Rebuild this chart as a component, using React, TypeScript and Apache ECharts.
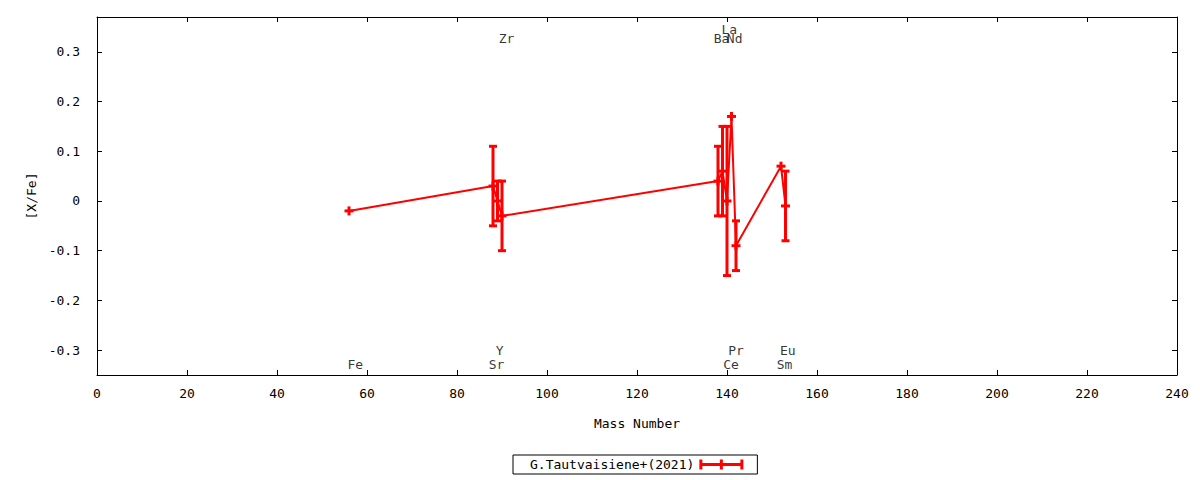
import React, { useEffect, useRef } from "react";
import * as echarts from "echarts";

const SERIES_NAME = "G.Tautvaisiene+(2021)";
const FONT = "DejaVu Sans Mono";

// element mass numbers, [X/Fe] values and their errors
const masses = [56, 88, 89, 90, 138, 139, 140, 141, 142, 152, 153];
const values = [-0.02, 0.03, 0.0, -0.03, 0.04, 0.06, 0.0, 0.17, -0.09, 0.07, -0.01];
const errors = [0, 0.08, 0.04, 0.07, 0.07, 0.09, 0.15, 0, 0.05, 0, 0.07];

// element name labels
const labelNames = ["Fe", "Sr", "Y", "Zr", "Ba", "La", "Ce", "Pr", "Nd", "Sm", "Eu"];
const labelX = [57.4, 88.8, 89.5, 91.0, 138.8, 140.5, 140.9, 142.0, 141.7, 152.8, 153.5];
const labelY = [-0.328, -0.328, -0.3, 0.326, 0.326, 0.344, -0.328, -0.3, 0.326, -0.328, -0.3];

const yTicks = [-0.3, -0.2, -0.1, 0, 0.1, 0.2, 0.3];

export default function App() {
  const ref = useRef<HTMLDivElement>(null);
  useEffect(() => {
    if (!ref.current) return;
    const chart = echarts.init(ref.current, null, { renderer: "svg" });
    const axisLine = { show: true, onZero: false, lineStyle: { color: "#000", width: 1 } };
    const xCommon = {
      type: "value",
      min: 0,
      max: 240,
      interval: 20,
      splitLine: { show: false },
      axisLine,
      axisTick: { show: true, inside: true, length: 5, lineStyle: { color: "#000" } },
    };
    const yCommon = {
      type: "value",
      min: -0.35,
      max: 0.37,
      splitLine: { show: false },
      axisLine,
      axisTick: {
        show: true,
        inside: true,
        length: 5,
        customValues: yTicks,
        lineStyle: { color: "#000" },
      },
    };
    chart.setOption({
      animation: false,
      backgroundColor: "#fff",
      textStyle: { fontFamily: FONT },
      grid: { left: 97, top: 17, width: 1080, height: 358 },
      legend: {
        left: 513,
        top: 455,
        align: "right",
        borderColor: "#000",
        borderWidth: 1,
        borderRadius: 0,
        padding: [3, 14, 3, 17],
        itemWidth: 44,
        itemHeight: 12,
        textStyle: { fontFamily: FONT, fontSize: 13, color: "#000" },
        data: [
          {
            name: SERIES_NAME,
            icon: "path://M0,4.5h44v3h-44z M0,1h3v10h-3z M41,1h3v10h-3z M20.5,1h3v10h-3z",
            itemStyle: { color: "#ff0000" },
          },
        ],
      },
      xAxis: [
        {
          ...xCommon,
          position: "bottom",
          name: "Mass Number",
          nameLocation: "middle",
          nameGap: 42,
          nameTextStyle: { fontFamily: FONT, fontSize: 13, color: "#000" },
          axisLabel: { margin: 12, fontFamily: FONT, fontSize: 13, color: "#000" },
        },
        {
          ...xCommon,
          position: "top",
          axisLabel: { show: false },
        },
      ],
      yAxis: [
        {
          ...yCommon,
          position: "left",
          name: "[X/Fe]",
          nameLocation: "middle",
          nameGap: 57,
          nameRotate: 90,
          nameTextStyle: { fontFamily: FONT, fontSize: 13, color: "#000" },
          axisLabel: {
            margin: 17,
            customValues: yTicks,
            fontFamily: FONT,
            fontSize: 13,
            color: "#000",
            formatter: (v: number) => String(Math.round(v * 10) / 10),
          },
        },
        {
          ...yCommon,
          position: "right",
          axisLabel: { show: false },
        },
      ],
      series: [
        {
          name: SERIES_NAME,
          type: "line",
          xAxisIndex: 0,
          yAxisIndex: 0,
          data: masses.map((m, i) => [m, values[i]]),
          symbol: "none",
          lineStyle: { color: "#ff0000", width: 2 },
          itemStyle: { color: "#ff0000" },
          z: 3,
        },
        {
          name: SERIES_NAME,
          type: "custom",
          xAxisIndex: 0,
          yAxisIndex: 0,
          data: masses.map((m, i) => [m, values[i], errors[i]]),
          encode: { x: 0, y: 1 },
          itemStyle: { color: "#ff0000" },
          z: 4,
          renderItem: (params: any, api: any) => {
            const x = api.value(0);
            const y = api.value(1);
            const e = api.value(2);
            const c = api.coord([x, y]);
            const top = api.coord([x, y + e]);
            const bot = api.coord([x, y - e]);
            const hw = 4;
            const pm = 4.5;
            const style = { stroke: "#ff0000", lineWidth: 3 };
            const children: any[] = [];
            if (e > 0) {
              children.push({ type: "line", shape: { x1: c[0], y1: top[1], x2: c[0], y2: bot[1] }, style });
              children.push({ type: "line", shape: { x1: c[0] - hw, y1: top[1], x2: c[0] + hw, y2: top[1] }, style });
              children.push({ type: "line", shape: { x1: c[0] - hw, y1: bot[1], x2: c[0] + hw, y2: bot[1] }, style });
            }
            children.push({ type: "line", shape: { x1: c[0] - pm, y1: c[1], x2: c[0] + pm, y2: c[1] }, style });
            children.push({ type: "line", shape: { x1: c[0], y1: c[1] - pm, x2: c[0], y2: c[1] + pm }, style });
            return { type: "group", children };
          },
        },
        {
          name: "labels",
          type: "scatter",
          xAxisIndex: 0,
          yAxisIndex: 0,
          silent: true,
          symbolSize: 0,
          data: labelNames.map((n, i) => ({ name: n, value: [labelX[i], labelY[i]] })),
          label: {
            show: true,
            position: "inside",
            formatter: (p: any) => p.name,
            fontFamily: FONT,
            fontSize: 13,
            color: "#000",
          },
          z: 5,
        },
      ],
    });
    return () => chart.dispose();
  }, []);
  return (
    <div
      ref={ref}
      style={{ position: "fixed", left: 0, top: 0, width: 1200, height: 480, background: "#fff" }}
    />
  );
}
